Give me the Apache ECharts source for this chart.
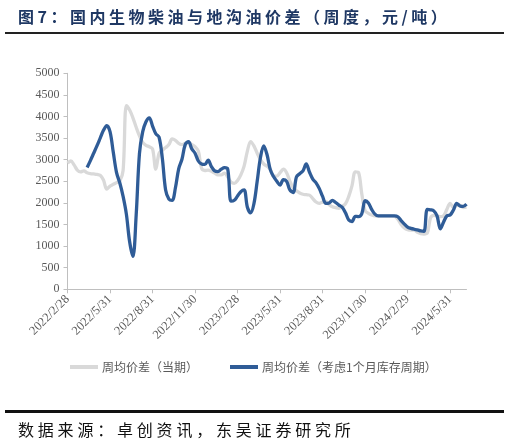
<!DOCTYPE html>
<html>
<head>
<meta charset="utf-8">
<script src="https://cdn.jsdelivr.net/npm/echarts@6/dist/echarts.min.js"></script>
<style>
html,body{margin:0;padding:0;background:#fff;}
#wrap{position:relative;width:510px;height:444px;overflow:hidden;}
#chart{position:absolute;left:0;top:0;width:510px;height:444px;}
#title{position:absolute;left:18px;top:5px;font-family:"Noto Sans CJK SC";font-weight:bold;font-size:16px;letter-spacing:3.5px;color:#1f3864;white-space:nowrap;line-height:22px;}
#tline{position:absolute;left:5px;top:32px;width:499px;height:2px;background:#222;}
#sline{position:absolute;left:5px;top:410px;width:499px;height:3px;background:#111;}
#source{position:absolute;left:18px;top:418px;font-family:"Noto Sans CJK SC";font-size:16px;letter-spacing:3.8px;color:#111;white-space:nowrap;line-height:22px;}
</style>
</head>
<body>
<div id="wrap">
<div id="chart"></div>
<div id="title">图7：国内生物柴油与地沟油价差（周度，元/吨）</div>
<div id="tline"></div>
<div id="sline"></div>
<div id="source">数据来源：卓创资讯，东吴证券研究所</div>
</div>
<script>
var tickLabels = ["2022/2/28","2022/5/31","2022/8/31","2022/11/30","2023/2/28","2023/5/31","2023/8/31","2023/11/30","2024/2/29","2024/5/31"];
var seriesNames = ["周均价差（当期）","周均价差（考虑1个月库存周期）"];
var grayValues = [2920,2970,2880,2760,2720,2740,2700,2680,2670,2660,
2640,2530,2320,2390,2430,2470,2510,2750,4250,4150,
3970,3750,3550,3400,3330,3300,3250,2780,3150,3220,
3280,3350,3480,3450,3380,3350,3380,3400,3350,3300,
3200,2800,2750,2760,2730,2690,2650,2650,2690,2600,
2480,2450,2520,2650,2850,3200,3420,3320,3150,3000,
2900,2850,2780,2620,2620,2700,2780,2700,2500,2350,
2280,2230,2200,2190,2180,2100,2020,1990,2020,2030,
1960,1910,1890,1875,1920,1980,2150,2400,2720,2700,
2200,1820,1760,1720,1700,1700,1700,1700,1700,1700,
1690,1620,1500,1420,1380,1370,1370,1320,1290,1280,
1300,1650,1710,1700,1680,1700,1850,1990,1890,1940,
1950,1890,1900];
var blueValues = [null,null,null,null,null,null,2820,2980,3150,3320,
3500,3680,3790,3650,3170,2700,2460,2150,1740,1100,
760,1720,3140,3650,3880,3970,3780,3600,3520,3030,
2300,2090,2060,2350,2790,3010,3350,3420,3250,3150,
2970,2900,2890,2990,2840,2740,2725,2780,2815,2780,
2040,2060,2160,2260,2300,1900,1770,1980,2500,3050,
3320,3120,2770,2610,2500,2414,2540,2500,2300,2240,
2600,2675,2740,2900,2710,2550,2465,2330,2150,1990,
2000,2060,2010,1950,1900,1770,1604,1570,1690,1680,
1750,2050,2000,1850,1740,1700,1700,1700,1700,1700,
1700,1680,1590,1510,1440,1410,1390,1375,1350,1340,
1850,1840,1815,1700,1400,1560,1700,1720,1835,1990,
1930,1920,1970];
var labelStep = 13;
var categories = grayValues.map(function(v, i){ return String(i); });

var chart = echarts.init(document.getElementById('chart'));
var axisColor = '#bfbfbf';
var textColor = '#595959';
chart.setOption({
  animation: false,
  grid: {left: 67.5, right: 43.5, top: 73.3, bottom: 154.7, containLabel: false},
  legend: {
    left: 70, top: 361, padding: 0,
    itemWidth: 28, itemHeight: 4, itemGap: 32,
    textStyle: {fontFamily: 'Noto Sans CJK SC', fontSize: 12, color: textColor, padding: [0,0,0,-1]},
    data: [
      {name: seriesNames[0], icon: 'rect', itemStyle: {color: '#d9d9d9'}},
      {name: seriesNames[1], icon: 'rect', itemStyle: {color: '#2f5c97'}}
    ]
  },
  xAxis: {
    type: 'category', boundaryGap: false, data: categories,
    axisLine: {lineStyle: {color: axisColor, width: 1}},
    axisTick: {show: true, length: 4, interval: function(i){ return i % labelStep === 0; }, lineStyle: {color: axisColor}},
    axisLabel: {
      interval: function(i){ return i % labelStep === 0; },
      rotate: 45, margin: 8,
      fontFamily: 'Liberation Serif', fontSize: 12.5, color: textColor,
      formatter: function(v, i){ return tickLabels[Math.round(i / labelStep)] || ''; }
    },
    splitLine: {show: false}
  },
  yAxis: {
    type: 'value', min: 0, max: 5000, interval: 500,
    axisLine: {show: true, lineStyle: {color: axisColor, width: 1}},
    axisTick: {show: true, length: 4, lineStyle: {color: axisColor}},
    axisLabel: {margin: 8, fontFamily: 'Liberation Serif', fontSize: 12, color: textColor,
      formatter: function(v){ return String(v); }},
    splitLine: {show: false}
  },
  series: [
    {name: seriesNames[0], type: 'line', data: grayValues, smooth: 0.35, showSymbol: false, z: 2,
     lineStyle: {color: '#d9d9d9', width: 3.3}, itemStyle: {color: '#d9d9d9'}},
    {name: seriesNames[1], type: 'line', data: blueValues, smooth: 0.35, showSymbol: false, z: 3,
     lineStyle: {color: '#2f5c97', width: 3.3}, itemStyle: {color: '#2f5c97'}}
  ]
});
</script>
</body>
</html>
